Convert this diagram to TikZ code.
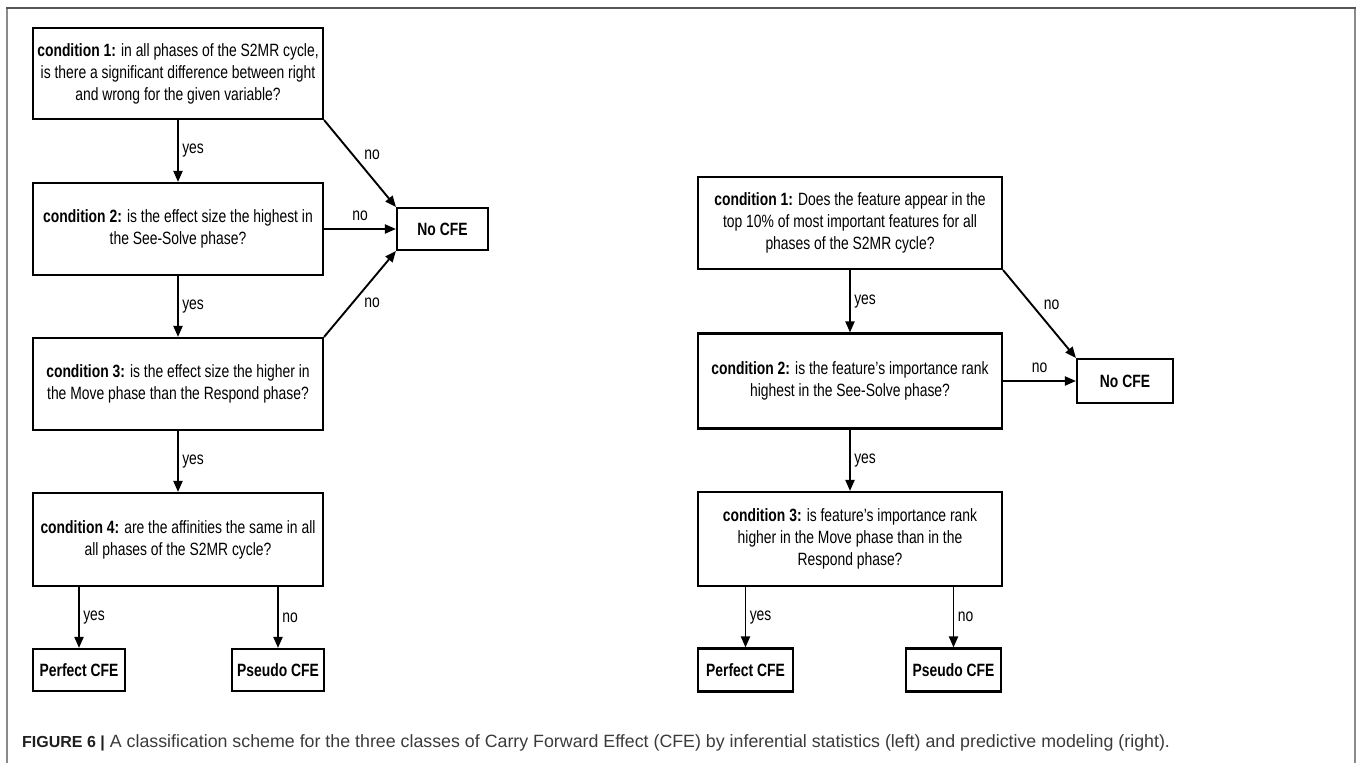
\documentclass[tikz,border=0pt]{standalone}
\usepackage{fontspec}
\setmainfont{Liberation Sans}
\newfontfamily\condfont{Liberation Sans}[FakeStretch=0.78]
\usetikzlibrary{arrows.meta}
\definecolor{framegray}{HTML}{8A8A8A}
\definecolor{framedark}{HTML}{555555}
\definecolor{captext}{HTML}{3A3A3A}
\tikzset{
  box/.style={draw, line width=2.1pt, align=center, inner sep=0pt,
    font=\condfont\fontsize{17.8}{22}\selectfont},
  endbox/.style={box, font=\condfont\bfseries\fontsize{17.8}{22}\selectfont},
  arr/.style={-{Triangle[length=11pt,width=9pt]}, line width=1.9pt},
  lab/.style={font=\condfont\fontsize{17.8}{20}\selectfont}
}
\begin{document}
\begin{tikzpicture}[x=1pt,y=-1pt]
\useasboundingbox (0,0) rectangle (1358,763);
% outer frame
\draw[framegray, line width=1.5pt] (7,763) -- (7,8);
\draw[framegray, line width=1.5pt] (1355,8) -- (1355,763);
\draw[framedark, line width=1.5pt] (6.25,8) -- (1355.75,8);

% ---------- left scheme ----------
\node[box, minimum width=290pt, minimum height=91pt] (l1) at (178,73.5)
  {\textbf{condition 1:} in all phases of the S2MR cycle,\\ is there a significant difference between right\\ and wrong for the given variable?};
\node[box, minimum width=290pt, minimum height=92pt] (l2) at (178,229)
  {\textbf{condition 2:} is the effect size the highest in\\ the See-Solve phase?};
\node[box, minimum width=290pt, minimum height=92pt] (l3) at (178,384)
  {\textbf{condition 3:} is the effect size the higher in\\ the Move phase than the Respond phase?};
\node[box, minimum width=290pt, minimum height=93pt] (l4) at (178,539.5)
  {\textbf{condition 4:} are the affinities the same in all\\ all phases of the S2MR cycle?};
\node[endbox, minimum width=91pt, minimum height=42pt] (lno) at (442.5,229) {No CFE};
\node[endbox, minimum width=92pt, minimum height=42pt] (lp) at (79,670) {Perfect CFE};
\node[endbox, minimum width=92pt, minimum height=42pt] (lq) at (278,670) {Pseudo CFE};

\draw[arr] (l1) -- node[lab, right] {yes} (l2);
\draw[arr] (l2) -- node[lab, right] {yes} (l3);
\draw[arr] (l3) -- node[lab, right] {yes} (l4);
\draw[arr] (l1.south east) -- node[lab, above right] {no} (lno.north west);
\draw[arr] (l2) -- node[lab, above=4pt] {no} (lno);
\draw[arr] (l3.north east) -- node[lab, below right] {no} (lno.south west);
\draw[arr] (l4.south -| lp.north) -- node[lab, right] {yes} (lp.north);
\draw[arr] (l4.south -| lq.north) -- node[lab, right] {no} (lq.north);

% ---------- right scheme ----------
\node[box, minimum width=304pt, minimum height=92pt] (r1) at (850,223)
  {\textbf{condition 1:} Does the feature appear in the\\ top 10\% of most important features for all\\ phases of the S2MR cycle?};
\node[box, minimum width=304pt, minimum height=95pt] (r2) at (850,381)
  {\textbf{condition 2:} is the feature’s importance rank\\ highest in the See-Solve phase?};
\node[box, minimum width=304pt, minimum height=94pt] (r3) at (850,539)
  {\textbf{condition 3:} is feature’s importance rank\\ higher in the Move phase than in the\\ Respond phase?};
\node[endbox, minimum width=96pt, minimum height=44pt] (rno) at (1125,381) {No CFE};
\node[endbox, minimum width=95pt, minimum height=43pt] (rp) at (745.5,670) {Perfect CFE};
\node[endbox, minimum width=95pt, minimum height=43pt] (rq) at (953.5,670) {Pseudo CFE};

\draw[arr] (r1) -- node[lab, right] {yes} (r2);
\draw[arr] (r2) -- node[lab, right] {yes} (r3);
\draw[arr] (r1.south east) -- node[lab, above right] {no} (rno.north west);
\draw[arr] (r2) -- node[lab, above=4pt] {no} (rno);
\draw[arr] (r3.south -| rp.north) -- node[lab, right] {yes} (rp.north);
\draw[arr] (r3.south -| rq.north) -- node[lab, right] {no} (rq.north);

% ---------- caption ----------
\node[anchor=base west, inner sep=0pt, text=captext, font=\fontsize{17.8}{21}\selectfont] (cap) at (22,747)
  {\textcolor{black!88}{\fontsize{16}{19}\selectfont\textbf{FIGURE 6 |}} A classification scheme for the three classes of Carry Forward Effect (CFE) by inferential statistics (left) and predictive modeling (right).};
\end{tikzpicture}
\end{document}
